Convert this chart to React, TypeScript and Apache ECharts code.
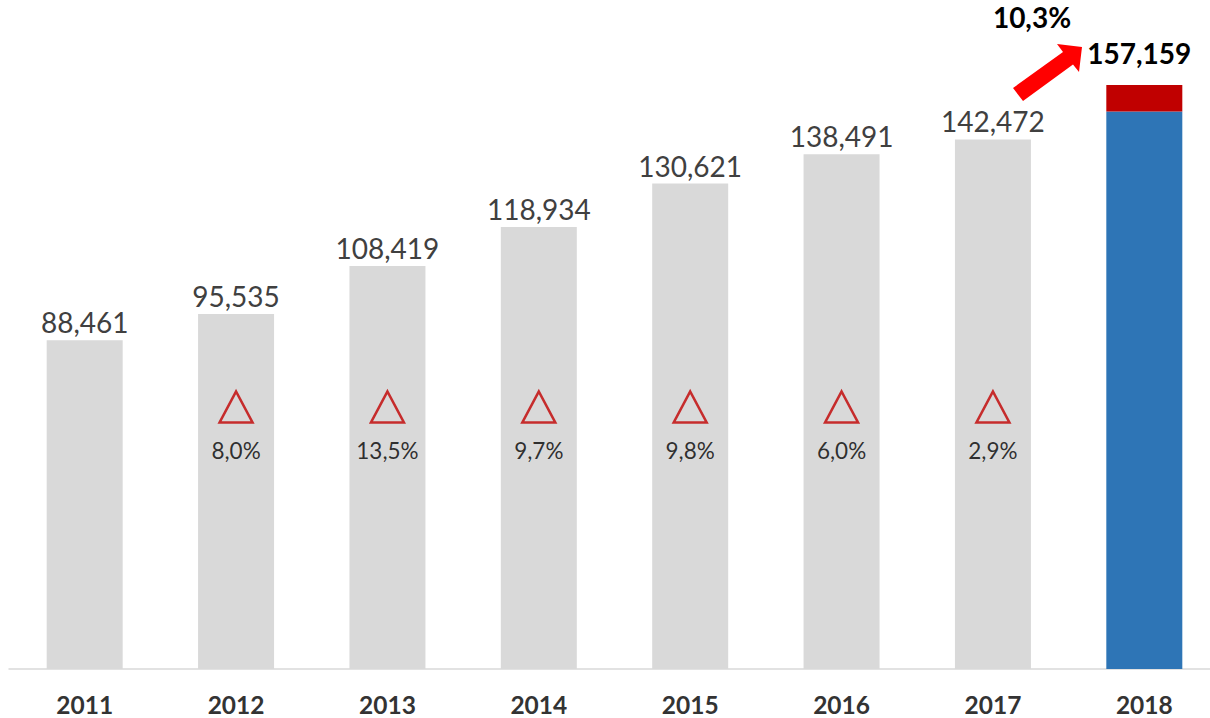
import React, { useEffect, useRef } from "react";
import * as echarts from "echarts";

const years = ["2011", "2012", "2013", "2014", "2015", "2016", "2017", "2018"];
const pastValues = [88461, 95535, 108419, 118934, 130621, 138491, 142472];
const base2018 = 150000;
const increment2018 = 7159;
const total2018 = 157159;
const growthLabels = ["8,0%", "13,5%", "9,7%", "9,8%", "6,0%", "2,9%"];
const growth2018 = "10,3%";
const markerLevel = 70500;

const fmt = (v: number) => v.toLocaleString("en-US");

export default function App() {
  const ref = useRef<HTMLDivElement>(null);
  useEffect(() => {
    if (!ref.current) return;
    const chart = echarts.init(ref.current, null, { renderer: "svg" });
    const grayData = [...pastValues, "-"];
    const blueData = [...pastValues.map(() => "-"), base2018];
    const redData = [...pastValues.map(() => "-"), increment2018];
    const markerData = years.map((y, i) => (i >= 1 && i <= 6 ? markerLevel : "-"));
    chart.setOption({
      animation: false,
      textStyle: { fontFamily: "Lato" },
      grid: { left: 9, width: 1211, top: 0, height: 669, containLabel: false },
      xAxis: {
        type: "category",
        data: years,
        axisLine: { show: true, lineStyle: { color: "#d9d9d9", width: 1.5 } },
        axisTick: { show: false },
        axisLabel: {
          fontFamily: "Lato",
          fontWeight: "bold",
          fontSize: 24.5,
          lineHeight: 24,
          color: "#333333",
          margin: 23,
        },
      },
      yAxis: {
        type: "value",
        min: 0,
        max: 180000,
        show: false,
        splitLine: { show: false },
      },
      series: [
        {
          type: "bar",
          stack: "total",
          data: grayData,
          barWidth: 76,
          itemStyle: { color: "#d9d9d9" },
          label: {
            show: true,
            position: "top",
            distance: 4,
            fontFamily: "Lato",
            fontSize: 28,
            color: "#404040",
            formatter: (p: any) => fmt(p.value),
          },
        },
        {
          type: "bar",
          stack: "total",
          data: blueData,
          barWidth: 76,
          itemStyle: { color: "#2e75b6" },
        },
        {
          type: "bar",
          stack: "total",
          data: redData,
          barWidth: 76,
          itemStyle: { color: "#c00000" },
          label: {
            show: true,
            position: "top",
            distance: 18,
            offset: [-5, 0],
            fontFamily: "Lato",
            fontWeight: "bold",
            fontSize: 28,
            color: "#000000",
            formatter: () => fmt(total2018),
          },
        },
        {
          type: "scatter",
          data: markerData,
          symbol: "triangle",
          symbolSize: [33, 31],
          itemStyle: { color: "rgba(0,0,0,0)", borderColor: "#c00000", borderWidth: 2.5 },
          label: {
            show: true,
            position: "bottom",
            distance: 15,
            fontFamily: "Lato",
            fontSize: 22.5,
            color: "#000000",
            formatter: (p: any) => growthLabels[p.dataIndex - 1],
          },
          z: 5,
        },
      ],
      graphic: [
        {
          type: "polygon",
          shape: {
            points: [
              [1013, 88],
              [1063, 52],
              [1057, 44],
              [1082, 47],
              [1079, 72],
              [1073, 64.5],
              [1023, 101],
            ],
          },
          style: { fill: "#ff0000" },
          z: 10,
        },
        {
          type: "text",
          x: 1032,
          y: 17,
          style: {
            text: growth2018,
            fontFamily: "Lato",
            fontWeight: "bold",
            fontSize: 28,
            fill: "#000000",
            align: "center",
            verticalAlign: "middle",
          },
          z: 10,
        },
      ],
    });
    return () => chart.dispose();
  }, []);
  return (
    <div style={{ position: "fixed", left: 0, top: 0, width: 1210, height: 718, overflow: "hidden", background: "#ffffff" }}>
      <div ref={ref} style={{ width: 1222, height: 718 }} />
    </div>
  );
}
